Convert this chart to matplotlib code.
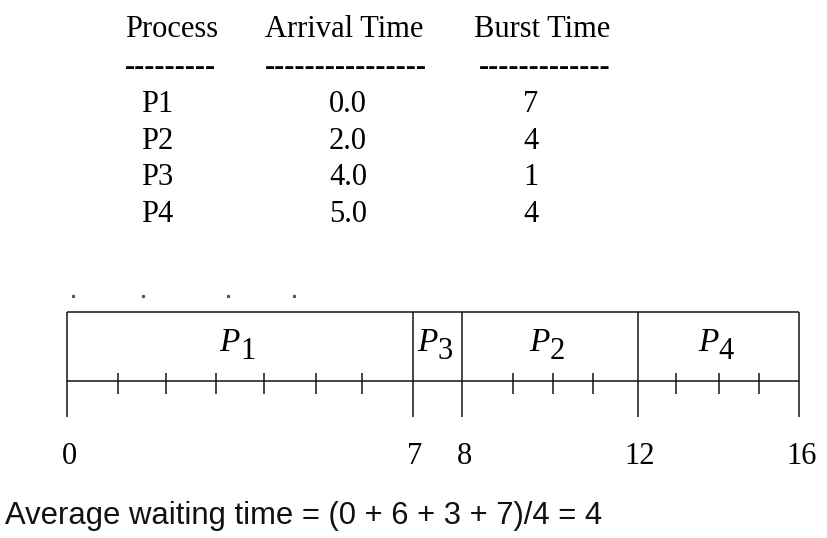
import numpy as np
import matplotlib
matplotlib.use('Agg')
import matplotlib.pyplot as plt

# --------------------------------------------------------------------------- #
# Data
# --------------------------------------------------------------------------- #
processes = ['P1', 'P2', 'P3', 'P4'];
arrivalTimes = ['0.0', '2.0', '4.0', '5.0'];
burstTimes = [7, 4, 1, 4];

# Execution order on the chart (shortest job first, non preemptive)
ganttOrder = ['P1', 'P3', 'P2', 'P4'];
ganttBursts = [7, 1, 4, 4];

# stray specks above the chart in the scan
speckTimes = [0.12, 1.52, 3.26, 4.57];

summaryText = "Average waiting time = (0 + 6 + 3 + 7)/4 = 4";

# --------------------------------------------------------------------------- #
# Layout helpers
# --------------------------------------------------------------------------- #
W, H = 828, 538;
serif = 'Liberation Serif';
sans = 'Liberation Sans';
lineCol = '#151515';
lw = 1.1;

bounds = np.concatenate([[0], np.cumsum(ganttBursts)]).astype(float);
# the chart in the original is not drawn quite to scale: pixel offset of
# every time unit from the left edge
unitTimes = np.arange(17, dtype=float);
unitPx = np.array([0, 51, 99, 149, 197, 249, 295, 346, 395, 446, 486, 526,
                   571, 609, 652, 692, 732], dtype=float);

def fwd(t):
  return np.interp(t, unitTimes, unitPx);

def inv(p):
  return np.interp(p, unitPx, unitTimes);


# --------------------------------------------------------------------------- #
# Main
# --------------------------------------------------------------------------- #
def main():

  fig = plt.figure(figsize=(W/100, H/100), dpi=100);
  fig.patch.set_facecolor('white');

  # pixel sized canvas for the table and the caption
  ax0 = fig.add_axes([0, 0, 1, 1]);
  ax0.set_xlim(0, W);
  ax0.set_ylim(H, 0);
  ax0.axis('off');

  fs = 22;
  ax0.text(125, 37, 'Process', fontsize=fs, family=serif, va='baseline');
  ax0.text(265, 37, 'Arrival Time', fontsize=fs, family=serif, va='baseline');
  ax0.text(474, 37, 'Burst Time', fontsize=fs, family=serif, va='baseline');

  ax0.text(125, 75, '-'*9, fontsize=fs, family=serif, weight='bold', va='baseline');
  ax0.text(265, 75, '-'*16, fontsize=fs, family=serif, weight='bold', va='baseline');
  ax0.text(479, 75, '-'*13, fontsize=fs, family=serif, weight='bold', va='baseline');

  for i, p in enumerate(processes):
    yb = 112 + i*36.7;
    ax0.text(141, yb, p, fontsize=fs, family=serif, va='baseline');
    ax0.text(348, yb, arrivalTimes[i], fontsize=fs, family=serif, va='baseline', ha='center');
    ax0.text(531, yb, str(burstTimes[i]), fontsize=fs, family=serif, va='baseline', ha='center');

  ax0.text(5, 524, summaryText, fontsize=22.3, family=sans, va='baseline', color='#111111');

  # ------------------------------------------------------------------------- #
  # Gantt chart
  # ------------------------------------------------------------------------- #
  ax = fig.add_axes([67/W, (H - 484.5)/H, 732/W, 207/H]);
  ax.set_xscale('function', functions=(fwd, inv));
  ax.set_xlim(bounds[0], bounds[-1]);
  ax.set_ylim(-1.5, 1.5);
  ax.axis('off');

  ax.plot([bounds[0], bounds[-1]], [1, 1], color=lineCol, lw=lw, clip_on=False, solid_capstyle='butt');
  ax.plot([bounds[0], bounds[-1]], [0, 0], color=lineCol, lw=lw, clip_on=False, solid_capstyle='butt');
  ax.vlines(bounds, -0.52, 1, color=lineCol, lw=lw, clip_on=False);

  ticks = [t for t in range(int(bounds[-1])) if t not in bounds];
  ax.vlines(ticks, -0.19, 0.12, color=lineCol, lw=lw, clip_on=False);

  for k, name in enumerate(ganttOrder):
    xc = inv(0.5*(fwd(bounds[k]) + fwd(bounds[k+1])));
    ax.text(xc, 0.43, name[0], fontsize=24, family=serif, style='italic',
            ha='right', va='baseline');
    ax.text(xc, 0.32, name[1:], fontsize=22, family=serif,
            ha='left', va='baseline');

  for b in bounds:
    ax.annotate("{:d}".format(int(b)), (b, -1.087), xytext=(1.5, 0),
                textcoords='offset points', fontsize=22, family=serif,
                ha='center', va='center', annotation_clip=False);

  ax.plot(speckTimes, [1.23]*len(speckTimes), ls='none', marker='s', ms=1.3,
          color='#555555', clip_on=False);

  fig.savefig('out.png', dpi=100, facecolor='white');

# --------------------------------------------------------------------------- #
# Execute
# --------------------------------------------------------------------------- #
if __name__ == '__main__':
  main();
